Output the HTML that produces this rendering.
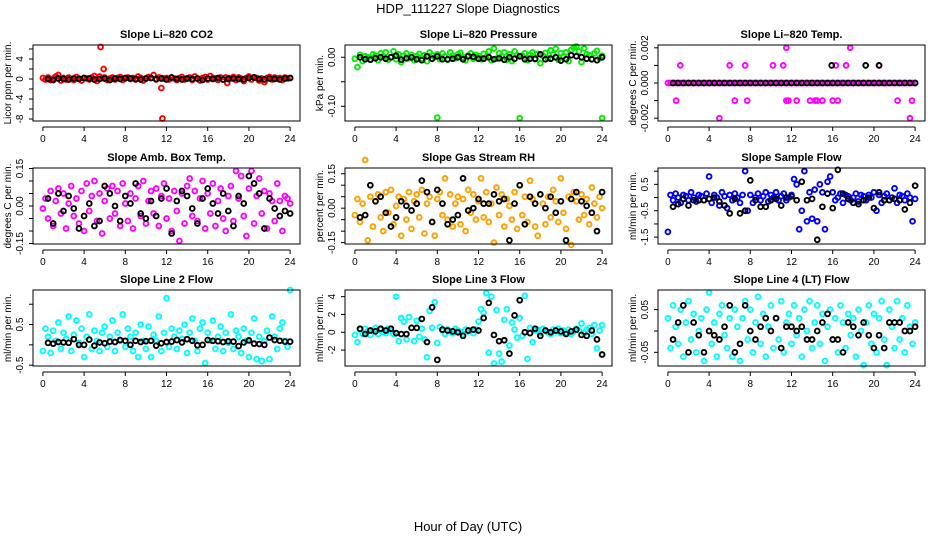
<!DOCTYPE html>
<html><head><meta charset="utf-8"><title>HDP_111227 Slope Diagnostics</title>
<style>
html,body{margin:0;padding:0;background:#fff;}
svg{display:block;font-family:"Liberation Sans",sans-serif;}
</style></head>
<body>
<svg id="chart" width="936" height="540" viewBox="0 0 936 540">
<text x="468" y="13" text-anchor="middle" font-size="13">HDP_111227  Slope Diagnostics</text>
<text x="468" y="531" text-anchor="middle" font-size="13">Hour of Day (UTC)</text>
</svg>
<script>
// ---------- data ----------
const xTicks = [0,4,8,12,16,20,24];

const co2Vals = [0.2,-0.1,0.3,-0.2,0.1,0.5,0.8,-0.3,0.2,-0.1,0.3,0,-0.2,0.4,0.1,-0.3,0.2,0.1,-0.1,0.3,0.6,-0.4,0.5,0.2,0.3,-0.2,0.1,0.3,-0.1,0.2,0.4,-0.2,0.1,0.3,0,0.2,-0.1,0.5,0.2,-0.3,0.1,0.4,0.2,0.8,-0.1,0.3,0.2,0.1,0.2,-0.1,0.3,0.1,-0.2,0.2,0.4,-0.1,0.1,0.3,-0.2,0.5,0.1,-0.3,0.2,0.4,-0.1,0.6,0.2,0.1,-0.2,0.3,-0.1,0.3,0.2,0.1,0.4,-0.2,0.3,0.1,-0.4,0.2,0.5,-0.1,0.3,0.2,-0.3,0.1,-0.6,0.2,0.4,-0.1,0.3,0.1,0.2,-0.2,0.3,0.1,0.2];
const co2Black = [0.0,-0.2,0.1,0.0,-0.1,0.1,0.0,0.2,0.1,-0.1,0.0,0.1,-0.2,0.1,0.0,0.2,0.1,0.0,-0.1,0.1,0.2,0.0,0.1,-0.1,0.3,0.0,-0.1,0.1,0.0,0.1,-0.2,0.1,0.0,0.2,-0.1,0.0,0.1,0.0,-0.1,0.2,0.3,0.0,-0.1,0.1,0.0,-0.1,0.1,0.2];
const co2ExtraHours = [5.6,5.9,11.5,11.6,17.9];
const co2ExtraVals = [6.4,2.0,-1.8,-7.9,-0.8];

const presVals = [-0.003,-0.02,0.005,-0.008,0.002,0.0,-0.004,0.006,0.003,-0.006,0.008,0.002,0.01,-0.005,0.0,0.012,-0.004,0.006,-0.01,0.003,0.008,-0.002,0.005,-0.006,0.002,0.007,-0.003,0.004,-0.008,0.01,0.004,0.0,0.006,-0.004,0.008,0.002,-0.005,0.01,0.003,-0.002,0.006,0.009,0.0,-0.006,0.004,0.008,-0.003,0.005,0.002,-0.004,0.007,0.0,0.012,-0.006,0.018,-0.003,0.008,0.002,0.01,-0.005,0.006,-0.008,0.012,0.004,0.002,0.003,0.008,-0.006,0.005,0.01,-0.004,0.007,-0.012,0.003,0.009,-0.002,0.014,0.006,0.017,-0.005,0.008,0.002,0.01,-0.008,0.015,0.02,0.022,0.012,-0.01,0.018,0.006,0.004,-0.004,0.008,0.013,-0.002,0.003];
const presBlack = [0.0,-0.004,-0.005,-0.002,0.0,-0.003,0.0,0.003,-0.005,-0.002,0.0,-0.004,-0.006,0.002,-0.003,0.002,-0.004,-0.004,-0.003,0.0,-0.004,0.002,0.001,-0.003,-0.003,0.0,-0.004,-0.002,-0.005,0.0,-0.003,0.002,-0.004,-0.003,-0.003,0.006,-0.004,-0.003,0.0,-0.007,-0.004,0.004,0.002,0.0,-0.003,-0.004,-0.006,0.0];
const presExtraHours = [8,16,24];
const presExtraVals = [-0.123,-0.124,-0.124];

const tempVals = [0,0,0,0,0,0,0,0,0,0,0,0,0,0,0,0,0,0,0,0,0,0,0,0,0,0,0,0,0,0,0,0,0,0,0,0,0,0,0,0,0,0,0,0,0,0,0,0,0,0,0,0,0,0,0,0,0,0,0,0,0,0,0,0,0,0,0,0,0,0,0,0,0,0,0,0,0,0,0,0,0,0,0,0,0,0,0,0,0,0,0,0,0,0,0,0,0];
const tempBlack = [0,0,0,0,0,0,0,0,0,0,0,0,0,0,0,0,0,0,0,0,0,0,0,0,0,0,0,0,0,0,0,0,0,0,0,0,0,0,0,0,0,0,0,0,0,0,0,0];
const tempExtraHours = [1.2,6,7.5,10.2,11.2,16.3,17.3,20.5,0.8,6.5,7.7,11.5,11.7,12.5,13.8,14.3,14.5,15,16,16.5,22.3,23.7,5,23.5,11.5,17.7];
const tempExtraVals = [0.001,0.001,0.001,0.001,0.001,0.001,0.001,0.001,-0.001,-0.001,-0.001,-0.001,-0.001,-0.001,-0.001,-0.001,-0.001,-0.001,-0.001,-0.001,-0.001,-0.001,-0.002,-0.002,0.002,0.002];
const tempBlackExtraHours = [15.9,19.2,20.5];
const tempBlackExtraVals = [0.001,0.001,0.001];

const ambVals = [-0.01,0.03,-0.05,0.06,-0.08,0.02,0.07,-0.03,0.05,-0.09,0.01,0.08,-0.04,0.03,-0.07,0.06,-0.1,0.09,-0.02,0.04,0.1,-0.06,0.05,-0.11,0.02,0.07,-0.05,0.08,-0.03,0.06,-0.08,0.09,0.01,-0.06,0.05,-0.09,0.03,0.08,-0.04,0.1,-0.07,0.02,0.06,-0.03,0.07,-0.08,0.04,0.09,-0.05,0.03,-0.1,0.06,-0.02,-0.14,0.05,-0.07,0.08,0.11,-0.04,0.06,-0.06,0.03,0.1,-0.09,0.05,-0.03,0.09,-0.08,0.02,0.07,-0.05,-0.1,0.04,0.08,-0.06,0.14,0.03,0.12,-0.04,-0.12,0.07,0.14,-0.07,0.04,0.11,-0.03,0.06,-0.09,0.05,0.02,-0.06,0.09,0.02,-0.1,0.04,0.03,0.01];
const ambBlack = [0.03,-0.07,0.05,-0.02,0.04,-0.01,-0.09,-0.04,0.01,-0.08,-0.06,0.08,0.05,0.0,-0.06,0.04,0.01,0.09,-0.03,-0.05,0.02,-0.04,0.03,0.07,-0.11,0.02,0.06,0.04,-0.01,-0.07,0.03,0.07,0.01,-0.03,0.05,-0.02,-0.08,0.04,0.01,0.12,0.09,0.05,-0.09,0.03,-0.01,-0.04,-0.02,-0.03];

const rhVals = [-0.03,0.04,-0.06,0.02,0.21,-0.14,0.05,-0.08,0.03,0.06,-0.04,-0.1,0.07,-0.02,0.08,-0.07,0.01,0.05,-0.12,0.04,-0.05,0.07,-0.09,0.03,0.06,-0.04,0.08,-0.11,0.02,0.05,-0.06,-0.12,0.04,0.07,-0.03,0.13,-0.05,0.06,-0.08,0.02,0.05,-0.07,0.04,-0.1,0.08,-0.02,0.06,-0.05,0.03,0.13,-0.04,0.07,-0.06,0.02,-0.15,0.09,-0.03,0.06,-0.08,0.04,0.01,-0.05,0.07,-0.09,0.1,-0.03,0.05,-0.06,0.12,0.04,-0.08,-0.12,0.06,0.02,-0.07,0.05,-0.04,0.08,0.03,-0.06,0.13,-0.02,-0.09,0.05,-0.16,0.07,0.03,-0.05,0.06,-0.03,0.04,-0.07,0.09,0.02,-0.04,0.05,0.0];
const rhBlack = [-0.04,-0.03,0.1,0.03,0.05,-0.02,-0.08,-0.04,0.03,0.01,-0.01,0.02,0.12,0.07,-0.06,0.08,0.02,-0.07,-0.05,-0.03,0.13,-0.01,0.0,0.04,0.02,0.02,0.06,0.03,0.04,-0.14,0.02,0.1,-0.07,0.05,0.02,0.06,0.0,0.05,-0.02,0.03,-0.14,0.04,0.07,0.03,0.01,-0.02,-0.1,0.07];

const flowVals = [-1.3,0.1,-0.1,0.15,0.0,-0.2,0.1,0.05,-0.1,0.2,0.0,-0.15,0.1,0.05,-0.1,0.15,0.8,-0.2,0.1,0.0,-0.3,0.2,0.05,-0.4,0.1,-0.1,0.15,0.0,-0.2,0.1,1.0,-0.5,0.1,-0.2,0.0,0.15,-0.1,0.05,0.2,-0.15,0.1,0.0,0.2,-0.1,0.05,0.15,-0.1,0.0,0.1,0.7,0.5,-1.2,-0.5,1.0,-0.9,0.2,-0.8,0.3,-0.9,0.5,0.2,-1.2,0.6,0.8,0.2,-0.1,0.0,0.15,-0.2,0.1,0.05,-0.1,0.0,0.15,-0.15,0.1,0.05,-0.1,0.1,0.0,0.2,-0.5,0.1,-0.2,0.05,0.15,-0.1,0.0,0.35,-0.2,0.1,0.05,-0.1,0.15,0.0,-0.9,-0.05];
const flowBlack = [-0.35,-0.25,-0.05,-0.3,-0.1,-0.1,-0.1,-0.05,0.0,-0.15,-0.3,-0.6,-0.05,-0.6,-0.5,0.65,-0.1,-0.35,-0.35,-0.1,-0.05,-0.3,0.0,0.05,-0.1,0.6,-0.1,-0.05,-1.6,-0.35,0.15,-0.4,1.05,0.15,-0.05,-0.2,-0.25,-0.1,0.0,-0.4,0.2,-0.1,-0.1,-0.05,-0.1,-0.45,-0.2,0.45];

const line2Vals = [-0.15,0.4,0.2,-0.2,0.35,0.1,0.55,-0.1,0.3,0.15,0.7,-0.15,0.25,0.6,0.05,0.4,-0.3,0.2,0.75,-0.1,0.35,0.1,-0.15,0.3,0.45,-0.05,0.2,0.6,-0.15,0.3,0.1,0.75,-0.05,0.4,0.2,-0.15,0.3,-0.3,0.5,0.1,-0.1,0.45,-0.3,0.25,0.1,0.7,-0.15,0.3,1.15,-0.05,0.4,0.2,-0.1,0.35,0.15,0.5,-0.2,0.3,0.65,0.1,-0.15,0.4,0.55,-0.45,0.3,0.1,0.6,-0.1,0.2,0.45,-0.15,0.3,0.05,0.75,-0.1,0.35,0.2,-0.2,0.4,0.1,-0.3,0.3,0.65,-0.35,0.2,-0.4,0.1,0.35,-0.35,0.7,0.2,-0.1,0.4,0.55,0.1,-0.05,1.35];
const line2Black = [0.05,0.03,0.07,0.06,0.05,0.14,0.0,0.0,0.13,-0.02,0.06,0.04,0.08,0.07,0.12,0.1,0.0,0.1,0.07,0.09,0.1,-0.02,0.04,0.07,0.08,0.12,0.06,0.14,0.1,-0.01,0.0,0.12,0.1,0.09,0.07,0.09,0.08,-0.03,0.06,0.11,0.03,0.02,0.0,0.18,0.12,0.1,0.08,0.08];

const line3Vals = [-0.3,-1.1,0.3,-0.2,0.4,0.1,-0.3,0.2,0.5,-0.2,0.3,0.0,-0.1,0.4,0.2,-0.2,4.0,-1.0,1.6,1.2,-0.8,1.7,0.5,-1.0,1.3,-0.5,0.4,-0.8,-2.8,2.4,0.5,3.4,-1.2,0.6,0.2,-0.2,0.3,0.1,-0.1,0.4,0.2,0.0,-0.2,0.3,0.1,0.2,-0.1,0.3,1.2,2.6,2.2,4.4,-2.3,4.0,-3.5,2.5,-2.4,-3.3,1.4,2.6,-1.5,1.1,0.3,-0.6,1.6,-0.4,4.1,-3.0,0.5,-1.1,0.2,0.3,-0.1,0.4,0.2,0.0,-0.2,0.3,0.1,0.4,-0.1,0.2,0.0,0.3,-0.2,0.1,0.4,0.2,1.0,-0.1,0.3,0.5,-0.2,0.8,-1.8,0.2,0.8];
const line3Black = [0.4,-0.2,0.2,0.1,0.4,0.2,0.4,-0.1,-0.2,-0.2,0.5,0.5,1.5,-1.1,2.8,-3.1,0.3,0.2,0.1,0.0,-0.4,0.2,0.3,0.2,1.6,3.3,-0.3,-1.0,-0.9,-2.4,1.9,3.6,0.0,-0.1,0.4,-0.4,0.2,0.0,0.2,0.1,-0.2,0.1,0.3,-0.3,-0.4,0.2,-0.8,-2.5];

const line4Vals = [0.03,-0.04,0.06,0.01,-0.03,0.05,-0.06,0.02,0.07,-0.02,0.04,-0.05,0.0,0.03,-0.07,0.05,0.09,-0.03,0.02,-0.06,0.04,0.06,-0.01,-0.04,0.03,-0.06,0.05,0.01,-0.07,0.03,0.07,-0.02,0.05,-0.05,0.02,0.08,-0.03,0.04,-0.06,0.01,0.06,-0.04,0.03,-0.02,0.07,-0.05,0.02,0.04,-0.03,0.06,-0.01,0.03,-0.06,0.05,0.0,0.07,-0.04,0.02,0.06,-0.03,0.04,-0.07,0.01,0.05,-0.02,0.03,-0.05,0.06,0.02,-0.04,0.04,-0.01,0.03,-0.06,0.05,0.0,-0.08,0.02,0.06,-0.03,0.04,-0.05,0.03,0.07,-0.02,-0.08,0.05,0.01,-0.04,0.07,-0.02,0.03,-0.05,0.06,0.01,-0.03,0.02];
const line4Black = [-0.02,0.02,0.06,-0.05,0.02,-0.01,-0.05,0.0,-0.01,-0.02,0.01,0.06,-0.05,-0.03,0.06,0.0,-0.02,0.01,0.03,0.0,0.03,-0.04,0.01,0.01,0.0,0.01,-0.02,-0.02,0.0,0.02,0.04,-0.02,-0.02,-0.05,0.02,0.01,-0.01,0.02,-0.01,-0.04,-0.01,-0.04,0.02,0.02,0.02,0.0,0.0,0.01];

// ---------- layout ----------
const panels = [
 {name:'co2',title:'Slope Li\u2013820 CO2',ylab:'Licor ppm per min.',x:33,y:45,w:267,h:76,yMin:-8.4,yMax:6.8,ticks:[-8,-6,-4,-2,0,2,4,6],labels:[-8,-4,0,4],fmt:0,color:'#ff0000',vals:co2Vals,black:co2Black,exH:co2ExtraHours,exV:co2ExtraVals},
 {name:'pressure',title:'Slope Li\u2013820 Pressure',ylab:'kPa per min.',x:345,y:45,w:267,h:76,yMin:-0.130,yMax:0.025,ticks:[-0.10,-0.05,0],labels:[-0.10,0],fmt:2,color:'#00ee00',vals:presVals,black:presBlack,exH:presExtraHours,exV:presExtraVals},
 {name:'temp',title:'Slope Li\u2013820 Temp.',ylab:'degrees C per min.',x:658,y:45,w:267,h:76,yMin:-0.00216,yMax:0.00216,ticks:[-0.002,-0.001,0,0.001,0.002],labels:[-0.002,0,0.002],fmt:3,color:'#ff00ff',vals:tempVals,black:tempBlack,exH:tempExtraHours,exV:tempExtraVals,bxH:tempBlackExtraHours,bxV:tempBlackExtraVals},
 {name:'amb-temp',title:'Slope Amb. Box Temp.',ylab:'degrees C per min.',x:33,y:168,w:267,h:76,yMin:-0.152,yMax:0.152,ticks:[-0.15,-0.1,-0.05,0,0.05,0.1,0.15],labels:[-0.15,0,0.15],fmt:2,color:'#ff00ff',vals:ambVals,black:ambBlack},
 {name:'rh',title:'Slope Gas Stream RH',ylab:'percent per min.',x:345,y:168,w:267,h:76,yMin:-0.156,yMax:0.175,ticks:[-0.15,-0.1,-0.05,0,0.05,0.1,0.15],labels:[-0.15,0,0.15],fmt:2,color:'#ff9f00',vals:rhVals,black:rhBlack},
 {name:'sample-flow',title:'Slope Sample Flow',ylab:'ml/min per min.',x:658,y:168,w:267,h:76,yMin:-1.76,yMax:1.12,ticks:[-1.5,-1,-0.5,0,0.5,1],labels:[-1.5,-0.5,0.5],fmt:1,color:'#0000ff',vals:flowVals,black:flowBlack},
 {name:'line2-flow',title:'Slope Line 2 Flow',ylab:'ml/min per min.',x:33,y:290,w:267,h:76,yMin:-0.52,yMax:1.35,ticks:[-0.5,0,0.5,1],labels:[-0.5,0.5],fmt:1,color:'#00ffff',vals:line2Vals,black:line2Black},
 {name:'line3-flow',title:'Slope Line 3 Flow',ylab:'ml/min per min.',x:345,y:290,w:267,h:76,yMin:-3.79,yMax:4.75,ticks:[-2,0,2,4],labels:[-2,0,2,4],fmt:0,color:'#00ffff',vals:line3Vals,black:line3Black},
 {name:'line4-flow',title:'Slope Line 4 (LT) Flow',ylab:'ml/min per min.',x:658,y:290,w:267,h:76,yMin:-0.082,yMax:0.096,ticks:[-0.05,0,0.05],labels:[-0.05,0.05],fmt:2,color:'#00ffff',vals:line4Vals,black:line4Black}
];

const NS='http://www.w3.org/2000/svg';
const svg=document.getElementById('chart');
function mk(tag,attrs,parent){const e=document.createElementNS(NS,tag);for(const k in attrs)e.setAttribute(k,attrs[k]);(parent||svg).appendChild(e);return e;}
const X0=-0.96,X1=24.96;
const R=2.4, SW=1.9;

panels.forEach(p=>{
  const g=mk('g',{});
  
  
  const xs=h=>p.x+(h-X0)/(X1-X0)*p.w;
  const ys=v=>p.y+p.h-(v-p.yMin)/(p.yMax-p.yMin)*p.h;
  const t=mk('text',{x:p.x+p.w/2,y:p.y-7,'text-anchor':'middle','font-size':11,'font-weight':'bold'},g);
  t.textContent=p.title;
  
  
  const pts=mk('g',{fill:'none',stroke:p.color,'stroke-width':SW},g);
  
  
  const n=p.vals.length;
  p.vals.forEach((v,i)=>{const c=mk('circle',{cx:xs(i*24/(n-1)),cy:ys(v),r:R},pts);
    
    });
  (p.exH||[]).forEach((h,i)=>{const c=mk('circle',{cx:xs(h),cy:ys(p.exV[i]),r:R},pts);
    
    });
  const bp=mk('g',{fill:'none',stroke:'#000','stroke-width':SW},g);
  
  
  const m=p.black.length;
  p.black.forEach((v,i)=>{const c=mk('circle',{cx:xs(0.5+i*23.5/(m-1)),cy:ys(v),r:R},bp);
    
    });
  (p.bxH||[]).forEach((h,i)=>{const c=mk('circle',{cx:xs(h),cy:ys(p.bxV[i]),r:R},bp);
    
    });
  const b=mk('rect',{x:p.x,y:p.y,width:p.w,height:p.h,fill:'none',stroke:'#000','stroke-width':1},g);
  
  
  const ax=mk('g',{},g);
  
  
  const ay0=p.y+p.h+6;
  mk('line',{x1:xs(0),x2:xs(24),y1:ay0,y2:ay0,stroke:'#000'},ax);
  xTicks.forEach(tk=>{
    mk('line',{x1:xs(tk),x2:xs(tk),y1:ay0,y2:ay0+4,stroke:'#000'},ax);
    const l=mk('text',{x:xs(tk),y:ay0+15,'text-anchor':'middle','font-size':10},ax);
    l.textContent=tk;
    
    
  });
  const yg=mk('g',{},g);
  
  
  const tmin=Math.min(...p.ticks),tmax=Math.max(...p.ticks);
  mk('line',{x1:p.x,x2:p.x,y1:ys(tmin),y2:ys(tmax),stroke:'#000'},yg);
  p.ticks.forEach(tk=>{mk('line',{x1:p.x-4,x2:p.x,y1:ys(tk),y2:ys(tk),stroke:'#000'},yg);});
  p.labels.forEach(tk=>{
    const s=(Math.abs(tk)<1e-12?0:tk).toFixed(p.fmt);
    const l=mk('text',{transform:`translate(${p.x-10},${ys(tk)}) rotate(-90)`,'text-anchor':'middle','font-size':10},yg);
    l.textContent=s;
    
    
  });
  const yl=mk('text',{transform:`translate(${p.x-22},${p.y+p.h/2}) rotate(-90)`,'text-anchor':'middle','font-size':10},g);
  yl.textContent=p.ylab;
  
  
});
</script>
</body></html>
